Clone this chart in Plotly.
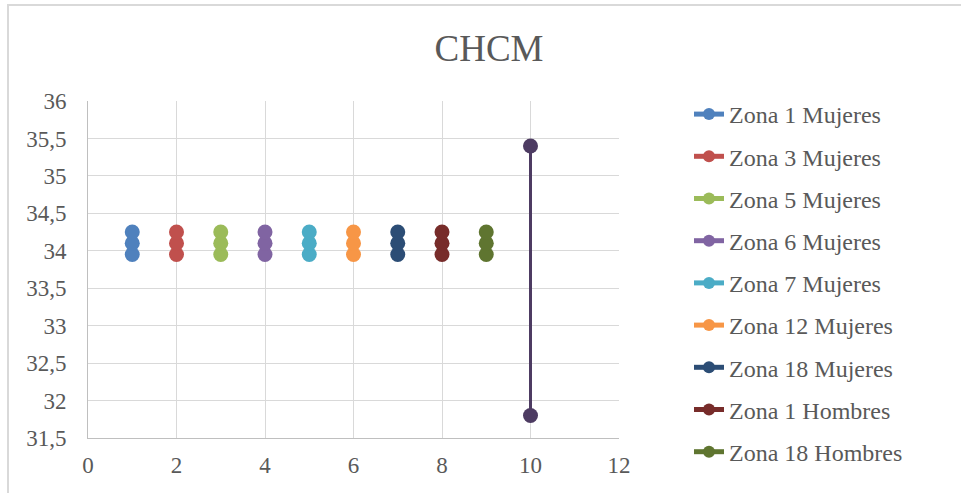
import plotly.graph_objects as go

W, H = 961, 493
L, R, T, B = 88, 342, 101, 55

series_names = ["Zona 1 Mujeres", "Zona 3 Mujeres", "Zona 5 Mujeres", "Zona 6 Mujeres",
                "Zona 7 Mujeres", "Zona 12 Mujeres", "Zona 18 Mujeres", "Zona 1 Hombres",
                "Zona 18 Hombres"]
series_x = [1, 2, 3, 4, 5, 6, 7, 8, 9]
series_y = [
    [33.95, 34.1, 34.25],
    [33.95, 34.1, 34.25],
    [33.95, 34.1, 34.25],
    [33.95, 34.1, 34.25],
    [33.95, 34.1, 34.25],
    [33.95, 34.1, 34.25],
    [33.95, 34.1, 34.25],
    [33.95, 34.1, 34.25],
    [33.95, 34.1, 34.25],
]
series_colors = ["#4F81BD", "#C0504D", "#9BBB59", "#8064A2", "#4BACC6",
                 "#F79646", "#2C4D75", "#772C2A", "#5F7530"]

extra_x = [10, 10]
extra_y = [31.8, 35.4]
extra_color = "#4D3B62"

y_ticks = [31.5, 32, 32.5, 33, 33.5, 34, 34.5, 35, 35.5, 36]
y_ticktext = ["31,5", "32", "32,5", "33", "33,5", "34", "34,5", "35", "35,5", "36"]
x_ticks = [0, 2, 4, 6, 8, 10, 12]

FONT = "Liberation Serif"
TXT = "#595959"

fig = go.Figure()
for i, (name, xv, yv, col) in enumerate(zip(series_names, series_x, series_y, series_colors)):
    fig.add_trace(go.Scatter(
        x=[xv] * len(yv), y=yv, name=name, mode="lines+markers",
        line=dict(color=col, width=4),
        marker=dict(color=col, size=15),
        legendgroup=f"g{i}",
    ))
fig.add_trace(go.Scatter(
    x=extra_x, y=extra_y, mode="lines+markers", showlegend=False,
    line=dict(color=extra_color, width=3),
    marker=dict(color=extra_color, size=15),
))

pw = W - L - R
ph = H - T - B
def px_x(p):
    return (p - L) / pw
def px_y(p):
    return (H - B - p) / ph

fig.update_layout(
    width=W, height=H,
    margin=dict(l=L, r=R, t=T, b=B, autoexpand=False),
    paper_bgcolor="white", plot_bgcolor="white",
    separators=",.",
    font=dict(family=FONT, color=TXT, size=23),
    title=dict(text="CHCM", x=489 / W, xref="container", xanchor="center",
               y=1 - 48 / H, yref="container", yanchor="middle",
               font=dict(family=FONT, size=37, color=TXT)),
    showlegend=True,
    legend=dict(x=px_x(689), xanchor="left", y=px_y(92), yanchor="top",
                font=dict(family=FONT, size=24, color=TXT),
                tracegroupgap=8, itemsizing="constant", maxheight=480,
                bgcolor="rgba(0,0,0,0)"),
    xaxis=dict(range=[0, 12], tickvals=x_ticks, showgrid=True, gridcolor="#D9D9D9",
               gridwidth=1, zeroline=False, showline=True, linecolor="#BFBFBF", linewidth=1,
               ticks="outside", ticklen=6, tickcolor="rgba(0,0,0,0)",
               tickfont=dict(family=FONT, size=23, color=TXT)),
    yaxis=dict(range=[31.5, 36], tickvals=y_ticks, ticktext=y_ticktext, showgrid=True,
               gridcolor="#D9D9D9", gridwidth=1, zeroline=False, showline=True,
               linecolor="#BFBFBF", linewidth=1,
               ticks="outside", ticklen=16, tickcolor="rgba(0,0,0,0)",
               tickfont=dict(family=FONT, size=23, color=TXT)),
    shapes=[
        dict(type="line", xref="paper", yref="paper", x0=px_x(7), x1=px_x(961),
             y0=px_y(5), y1=px_y(5), line=dict(color="#D9D9D9", width=2)),
        dict(type="line", xref="paper", yref="paper", x0=px_x(8), x1=px_x(8),
             y0=px_y(5), y1=px_y(493), line=dict(color="#D9D9D9", width=2)),
    ],
)

fig.write_html("out.html")
